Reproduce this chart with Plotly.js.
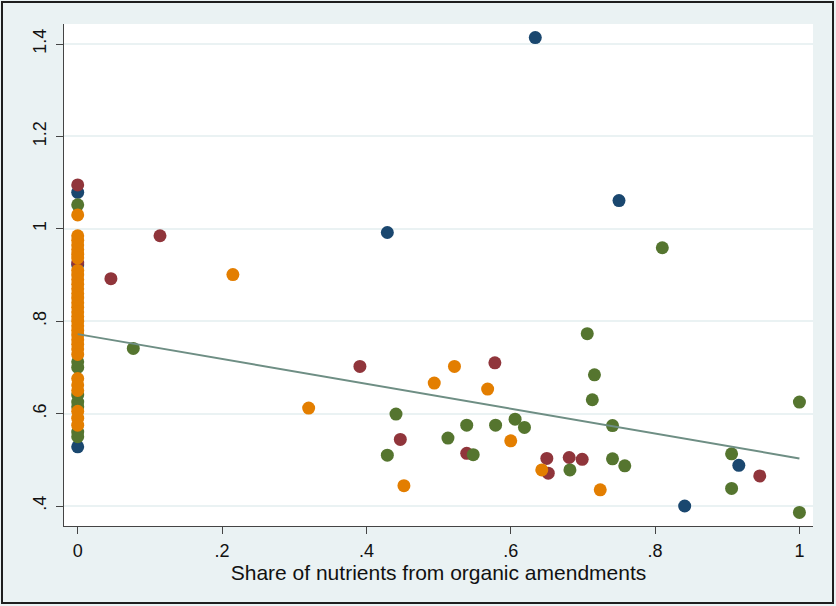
<!DOCTYPE html>
<html>
<head>
<meta charset="utf-8">
<script src="https://cdn.plot.ly/plotly-3.0.1.min.js"></script>
<style>
  html, body { margin: 0; padding: 0; background: #eaf2f3; }
  #wrap { position: relative; width: 836px; height: 606px; }
  #chart { position: absolute; left: 0; top: 0; width: 836px; height: 606px; }
  #frame { position: absolute; left: 1px; top: 1px; width: 833px; height: 603px;
           box-sizing: border-box; border: 2px solid #1e1e1e; pointer-events: none; }
</style>
</head>
<body>
<div id="wrap"><div id="chart"></div><div id="frame"></div></div>
<script>
// ---- data ----
const navyX = [0, 0, 0, 0.429, 0.634, 0.750, 0.841, 0.916];
const navyY = [1.079, 0.922, 0.528, 0.992, 1.414, 1.061, 0.400, 0.488];

const maroonX = [0, 0, 0.046, 0.114, 0.391, 0.447, 0.539, 0.578, 0.650, 0.652, 0.681, 0.699, 0.945];
const maroonY = [1.095, 0.926, 0.892, 0.985, 0.702, 0.544, 0.514, 0.710, 0.503, 0.471, 0.505, 0.501, 0.465];

const greenX = [0, 0, 0, 0, 0, 0, 0, 0, 0.077, 0.429, 0.441, 0.513, 0.539, 0.548, 0.579, 0.606, 0.619,
                0.682, 0.706, 0.713, 0.716, 0.741, 0.741, 0.758, 0.810, 0.906, 0.906, 1.0, 1.0];
const greenY = [1.052, 0.712, 0.700, 0.640, 0.625, 0.615, 0.560, 0.550, 0.741, 0.510, 0.599, 0.547, 0.575,
                0.511, 0.575, 0.588, 0.570, 0.478, 0.773, 0.630, 0.684, 0.574, 0.502, 0.487, 0.959, 0.513,
                0.438, 0.625, 0.386];

const orangeX = [0.215, 0.320, 0.452, 0.494, 0.522, 0.568, 0.600, 0.643, 0.724,
                 0, 0, 0, 0, 0, 0, 0, 0, 0, 0, 0, 0, 0, 0, 0, 0, 0, 0, 0, 0, 0, 0, 0, 0, 0, 0, 0, 0, 0, 0, 0, 0];
const orangeY = [0.901, 0.612, 0.444, 0.666, 0.702, 0.653, 0.541, 0.478, 0.435,
                 1.030, 0.985, 0.975, 0.965, 0.955, 0.945, 0.937, 0.910, 0.900, 0.890, 0.880, 0.870,
                 0.860, 0.850, 0.840, 0.830, 0.820, 0.810, 0.800, 0.790, 0.780, 0.770, 0.760, 0.750,
                 0.740, 0.728, 0.676, 0.662, 0.650, 0.605, 0.590, 0.575];

const fitX = [0, 1];
const fitY = [0.772, 0.503];

const xTickVals = [0, 0.2, 0.4, 0.6, 0.8, 1];
const xTickText = ['0', '.2', '.4', '.6', '.8', '1'];
const yTickVals = [0.4, 0.6, 0.8, 1.0, 1.2, 1.4];
const yTickText = ['.4', '.6', '.8', '1', '1.2', '1.4'];

const xTitle = 'Share of nutrients from organic amendments';

// ---- chart ----
const FONT = 'Liberation Sans, Arial, sans-serif';
const mk = (x, y, color) => ({
  type: 'scatter', mode: 'markers', x: x, y: y, showlegend: false, hoverinfo: 'skip',
  marker: { color: color, size: 13, line: { width: 0 } }
});

const traces = [
  mk(navyX, navyY, '#1a476f'),
  mk(maroonX, maroonY, '#90353b'),
  mk(greenX, greenY, '#55752f'),
  mk(orangeX, orangeY, '#e37e00'),
  { type: 'scatter', mode: 'lines', x: fitX, y: fitY, showlegend: false, hoverinfo: 'skip',
    line: { color: '#6e8e84', width: 2 } }
];

const layout = {
  width: 836, height: 606,
  margin: { l: 64, r: 23, t: 24, b: 80 },
  paper_bgcolor: '#eaf2f3',
  plot_bgcolor: '#ffffff',
  font: { family: FONT, color: '#111111' },
  xaxis: {
    range: [-0.019, 1.0188], autorange: false,
    tickvals: xTickVals, ticktext: xTickText,
    ticks: 'outside', ticklen: 7, tickwidth: 1, tickcolor: '#444',
    showline: true, linecolor: '#444', linewidth: 1,
    showgrid: false, zeroline: false,
    tickfont: { size: 18, family: FONT, color: '#111' },
    ticklabelstandoff: 1,
    title: { text: xTitle, font: { size: 21, family: FONT, color: '#111' }, standoff: 3 }
  },
  yaxis: {
    range: [0.3567, 1.4433], autorange: false,
    tickvals: yTickVals, ticktext: yTickText,
    ticks: 'outside', ticklen: 7, tickwidth: 1, tickcolor: '#444',
    showline: true, linecolor: '#444', linewidth: 1,
    showgrid: true, gridcolor: '#eaf2f3', gridwidth: 2, zeroline: false,
    tickangle: -90,
    tickfont: { size: 18, family: FONT, color: '#111' },
    ticklabelstandoff: 3
  }
};

Plotly.newPlot('chart', traces, layout, { staticPlot: true, displayModeBar: false });
</script>
</body>
</html>
